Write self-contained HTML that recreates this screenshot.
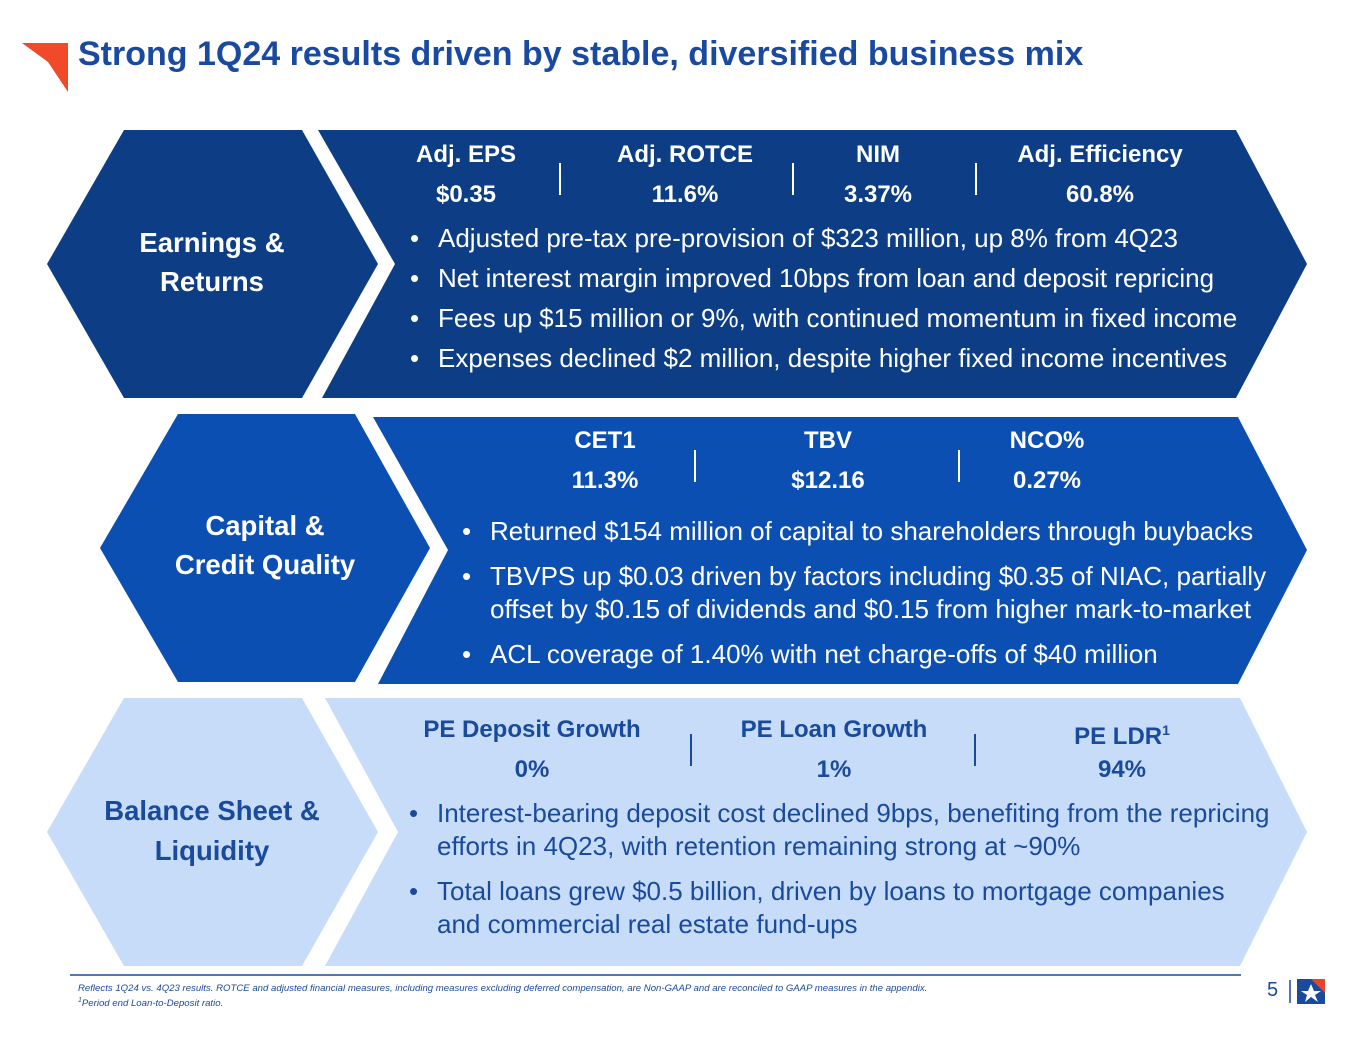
<!DOCTYPE html>
<html><head><meta charset="utf-8"><style>
body{margin:0;width:1365px;height:1040px;background:#fff;position:relative;overflow:hidden;font-family:"Liberation Sans",sans-serif}
.t{position:absolute;white-space:nowrap}
.b{font-weight:bold}
.c{transform:translateX(-50%);text-align:center}
.w{color:#fff}.d{color:#1a4a9c}
.m{font-size:24px;font-weight:bold;line-height:28px}
.bl{position:absolute;white-space:nowrap;font-size:26px;line-height:30px;transform:translateY(-50%)}
.bl i{font-style:normal;position:absolute;left:-28px}
.sep{position:absolute;width:1.5px;height:32px}
</style></head><body>
<svg width="1365" height="1040" style="position:absolute;left:0;top:0">
<polygon points="22,43 68,43 68,92 48,62" fill="#f04a2a"/>
<polygon points="47,264 124,130 302,130 378,264 302,398 124,398" fill="#0c3d85"/>
<polygon points="318,130 1236,130 1307,264 1236,398 322,398 395,264" fill="#0c3d85"/>
<polygon points="100,548 178,414 355,414 430,548 355,682 178,682" fill="#0c4fb2"/>
<polygon points="373,417 1238,417 1307,550 1238,684 378,684 448,550" fill="#0c4fb2"/>
<polygon points="47,832 124,698 302,698 378,832 302,966 124,966" fill="#c6dcf8"/>
<polygon points="325,698 1240,698 1307,832 1240,966 325,966 398,832" fill="#c6dcf8"/>
<line x1="70" y1="975" x2="1241" y2="975" stroke="#1a4a9c" stroke-width="1.5"/>
<line x1="1290" y1="980" x2="1290" y2="1003" stroke="#1a4a9c" stroke-width="1.5"/>
<g>
<rect x="1297" y="979" width="28" height="25" fill="#1a4a9c"/>
<polygon points="1311,979 1325,979 1325,993" fill="#e8432b"/>
<polygon points="1311,984 1314,991 1321,991 1315,995 1318,1002 1311,997 1305,1002 1307,995 1301,991 1308,991" fill="#fff"/>
</g>
</svg>
<div class="t b" style="left:78px;top:35px;font-size:34px;color:#1a4aa0">Strong 1Q24 results driven by stable, diversified business mix</div>

<div class="t b w c" style="left:212px;top:223px;font-size:27.5px;line-height:39px">Earnings &amp;<br>Returns</div>
<div class="t m w c" style="left:466px;top:141px">Adj. EPS</div><div class="t m w c" style="left:466px;top:181px">$0.35</div>
<div class="t m w c" style="left:685px;top:141px">Adj. ROTCE</div><div class="t m w c" style="left:685px;top:181px">11.6%</div>
<div class="t m w c" style="left:878px;top:141px">NIM</div><div class="t m w c" style="left:878px;top:181px">3.37%</div>
<div class="t m w c" style="left:1100px;top:141px">Adj. Efficiency</div><div class="t m w c" style="left:1100px;top:181px">60.8%</div>
<div class="sep" style="left:559px;top:163px;background:#fff"></div><div class="sep" style="left:792px;top:163px;background:#fff"></div><div class="sep" style="left:975px;top:163px;background:#fff"></div>
<div class="w">
<div class="bl" style="left:438px;top:238px"><i>•</i>Adjusted pre-tax pre-provision of $323 million, up 8% from 4Q23</div>
<div class="bl" style="left:438px;top:278px"><i>•</i>Net interest margin improved 10bps from loan and deposit repricing</div>
<div class="bl" style="left:438px;top:318px"><i>•</i>Fees up $15 million or 9%, with continued momentum in fixed income</div>
<div class="bl" style="left:438px;top:358px"><i>•</i>Expenses declined $2 million, despite higher fixed income incentives</div>
</div>

<div class="t b w c" style="left:265px;top:506px;font-size:27.5px;line-height:39px">Capital &amp;<br>Credit Quality</div>
<div class="t m w c" style="left:605px;top:427px">CET1</div><div class="t m w c" style="left:605px;top:467px">11.3%</div>
<div class="t m w c" style="left:828px;top:427px">TBV</div><div class="t m w c" style="left:828px;top:467px">$12.16</div>
<div class="t m w c" style="left:1047px;top:427px">NCO%</div><div class="t m w c" style="left:1047px;top:467px">0.27%</div>
<div class="sep" style="left:694px;top:450px;background:#fff"></div><div class="sep" style="left:958px;top:450px;background:#fff"></div>
<div class="w">
<div class="bl" style="left:490px;top:531px"><i>•</i>Returned $154 million of capital to shareholders through buybacks</div>
<div class="bl" style="left:490px;top:576px"><i>•</i>TBVPS up $0.03 driven by factors including $0.35 of NIAC, partially</div>
<div class="bl" style="left:490px;top:609px">offset by $0.15 of dividends and $0.15 from higher mark-to-market</div>
<div class="bl" style="left:490px;top:654px"><i>•</i>ACL coverage of 1.40% with net charge-offs of $40 million</div>
</div>

<div class="t b d c" style="left:212px;top:791px;font-size:27.5px;line-height:40px">Balance Sheet &amp;<br>Liquidity</div>
<div class="t m d c" style="left:532px;top:716px">PE Deposit Growth</div><div class="t m d c" style="left:532px;top:756px">0%</div>
<div class="t m d c" style="left:834px;top:716px">PE Loan Growth</div><div class="t m d c" style="left:834px;top:756px">1%</div>
<div class="t m d c" style="left:1122px;top:716px">PE LDR<sup style="font-size:14px">1</sup></div><div class="t m d c" style="left:1122px;top:756px">94%</div>
<div class="sep" style="left:690px;top:734px;background:#1a4a9c"></div><div class="sep" style="left:974px;top:734px;background:#1a4a9c"></div>
<div class="d">
<div class="bl" style="left:437px;top:813px"><i>•</i>Interest-bearing deposit cost declined 9bps, benefiting from the repricing</div>
<div class="bl" style="left:437px;top:846px">efforts in 4Q23, with retention remaining strong at ~90%</div>
<div class="bl" style="left:437px;top:891px"><i>•</i>Total loans grew $0.5 billion, driven by loans to mortgage companies</div>
<div class="bl" style="left:437px;top:924px">and commercial real estate fund-ups</div>
</div>

<div class="t d" style="left:78px;top:983px;font-size:9.6px;font-style:italic;line-height:12px">Reflects 1Q24 vs. 4Q23 results. ROTCE and adjusted financial measures, including measures excluding deferred compensation, are Non-GAAP and are reconciled to GAAP measures in the appendix.<br><sup style="font-size:7px">1</sup>Period end Loan-to-Deposit ratio.</div>
<div class="t d" style="left:1267px;top:979px;font-size:20px">5</div>
</body></html>
